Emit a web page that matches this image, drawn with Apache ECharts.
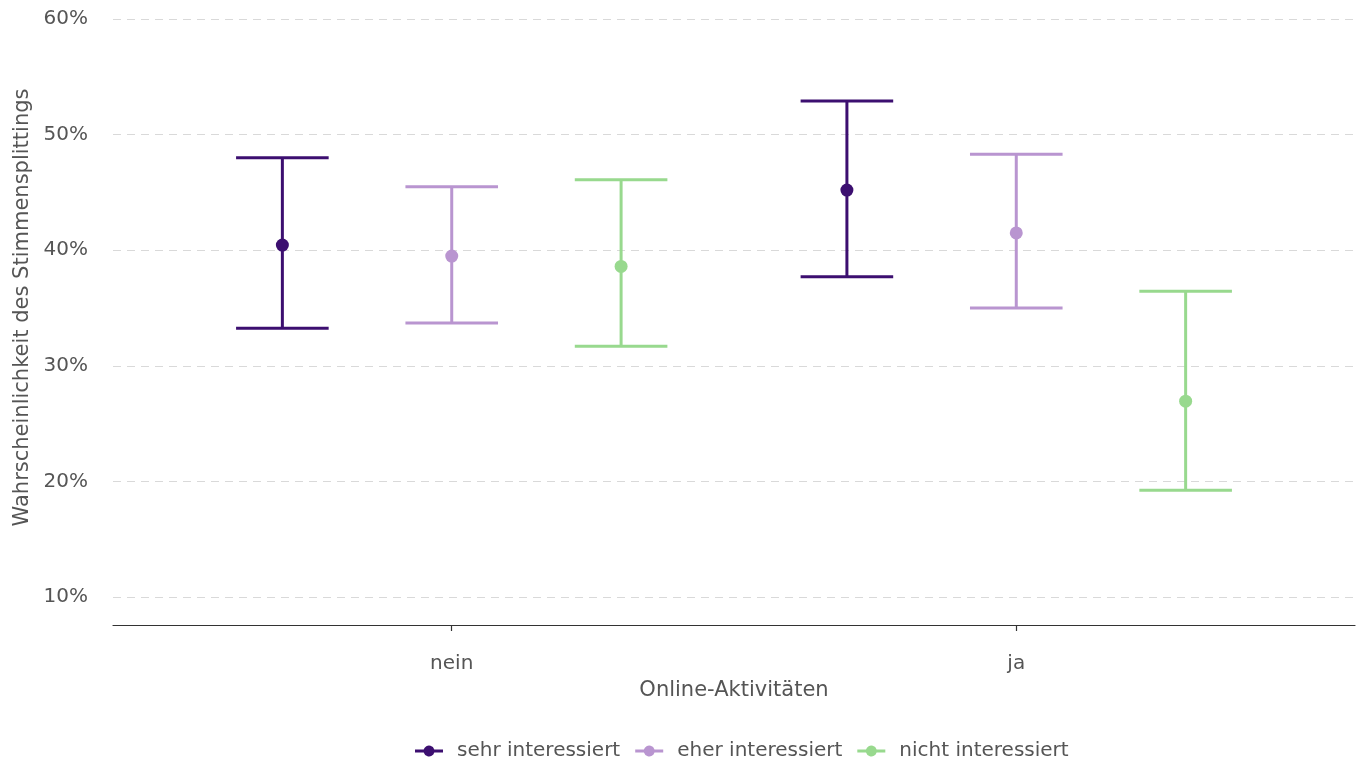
<!DOCTYPE html>
<html><head><meta charset="utf-8">
<script src="https://cdn.jsdelivr.net/npm/echarts@6/dist/echarts.min.js"></script>
<style>html,body{margin:0;padding:0;background:#fff}#c{width:1365px;height:758px}</style>
</head><body><div id="c"></div>
<script>
const categories = ['nein', 'ja'];
const groups = ['sehr interessiert', 'eher interessiert', 'nicht interessiert'];
const sehrPoint = [40.45, 45.2];
const sehrLow = [33.25, 37.7];
const sehrHigh = [48.0, 52.9];
const eherPoint = [39.5, 41.5];
const eherLow = [33.7, 35.0];
const eherHigh = [45.5, 48.3];
const nichtPoint = [38.6, 26.95];
const nichtLow = [31.7, 19.25];
const nichtHigh = [46.1, 36.45];

const colors = ['#3c0f70', '#b995d0', '#98d98e'];
const dodge = [-0.3, 0, 0.3];
const capHalf = 0.082;
const points = [sehrPoint, eherPoint, nichtPoint];
const lows = [sehrLow, eherLow, nichtLow];
const highs = [sehrHigh, eherHigh, nichtHigh];
const font = 'DejaVu Sans';
const txt = '#555555';
const legendIcon = 'path://M0,4 L8.71,4 A5.5,5.5 0 0,1 19.29,4 L28,4 L28,7 L19.29,7 A5.5,5.5 0 0,1 8.71,7 L0,7 Z';

const series = [];
groups.forEach((g, gi) => {
  series.push({
    name: g, type: 'custom',
    data: categories.map((c, ci) => [ci + 1 + dodge[gi], lows[gi][ci], highs[gi][ci]]),
    encode: { x: 0, y: [1, 2] },
    renderItem: function (params, api) {
      const x = api.value(0);
      const top = api.coord([x, api.value(2)]);
      const bot = api.coord([x, api.value(1)]);
      const hw = api.size([capHalf, 0])[0];
      const st = { stroke: colors[gi], lineWidth: 3 };
      return { type: 'group', children: [
        { type: 'line', shape: { x1: top[0], y1: top[1], x2: bot[0], y2: bot[1] }, style: st },
        { type: 'line', shape: { x1: top[0] - hw, y1: top[1], x2: top[0] + hw, y2: top[1] }, style: st },
        { type: 'line', shape: { x1: bot[0] - hw, y1: bot[1], x2: bot[0] + hw, y2: bot[1] }, style: st }
      ]};
    },
    z: 2
  });
  series.push({
    name: g, type: 'scatter', symbol: 'circle', symbolSize: 13,
    itemStyle: { color: colors[gi], opacity: 1 },
    data: categories.map((c, ci) => [ci + 1 + dodge[gi], points[gi][ci]]),
    z: 3
  });
});

const chart = echarts.init(document.getElementById('c'), null, { renderer: 'canvas' });
chart.setOption({
  backgroundColor: '#ffffff',
  animation: false,
  color: colors,
  textStyle: { fontFamily: font },
  grid: { left: 113, right: 10, top: -10, bottom: 133, containLabel: false, outerBoundsMode: 'none' },
  legend: {
    top: 736, left: 410,
    data: groups.map((g, i) => ({ name: g, icon: legendIcon, itemStyle: { color: colors[i] } })),
    itemWidth: 28, itemHeight: 11, itemGap: 15,
    textStyle: { fontFamily: font, fontSize: 20, color: txt, padding: [0, 0, 0, 9] }
  },
  xAxis: {
    type: 'value', min: 0.4, max: 2.6,
    name: 'Online-Aktivitäten', nameLocation: 'middle', nameGap: 55,
    nameTextStyle: { fontFamily: font, fontSize: 21, color: txt },
    axisLine: { show: true, lineStyle: { color: '#333', width: 1.2 } },
    axisTick: { show: true, customValues: [1, 2], length: 6, lineStyle: { color: '#333', width: 1.2 } },
    axisLabel: { customValues: [1, 2], formatter: v => categories[Math.round(v) - 1], fontFamily: font, fontSize: 20, color: txt, margin: 29 },
    splitLine: { show: false }
  },
  yAxis: {
    type: 'value', min: 7.6, max: 62.5, splitNumber: 5,
    name: 'Wahrscheinlichkeit des Stimmensplittings', nameLocation: 'middle', nameGap: 80,
    nameTextStyle: { fontFamily: font, fontSize: 21, color: txt },
    axisLine: { show: false }, axisTick: { show: false },
    axisLabel: { formatter: v => (Math.abs(v % 10) < 1e-6 ? v + '%' : ''), fontFamily: font, fontSize: 20, color: txt, margin: 25 },
    splitLine: { show: true, lineStyle: { color: '#d9d9d9', type: [8, 6], width: 1.2 } }
  },
  series: series
});
</script></body></html>
